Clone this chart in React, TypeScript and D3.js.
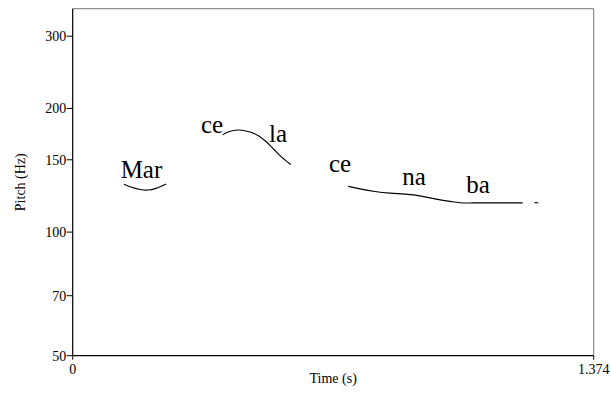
import React from "react";
import * as d3 from "d3";

const W = 611;
const H = 394;

// Pitch contour segments: times (s) and pitch (Hz)
const marTimes = [0.1353, 0.1511, 0.1775, 0.1986, 0.2197, 0.2461];
const marHz = [130.7, 128.9, 127.0, 126.6, 127.8, 131.0];

const celaTimes = [0.3956, 0.4096, 0.428, 0.4465, 0.4676, 0.4887, 0.5098, 0.5309, 0.552, 0.5749];
const celaHz = [172.5, 175.3, 177.0, 177.1, 175.3, 171.9, 166.2, 158.9, 152.0, 146.1];

const cenabaTimes = [0.7268, 0.7577, 0.7972, 0.8368, 0.8763, 0.9159, 0.9555, 0.995, 1.0214, 1.0741, 1.1269, 1.1867];
const cenabaHz = [129.2, 127.4, 125.6, 124.4, 123.7, 122.5, 120.5, 118.8, 117.9, 117.8, 117.8, 117.8];

const tailTimes = [1.2173, 1.2279];
const tailHz = [117.9, 117.9];

// Syllable labels
const syllables = ["Mar", "ce", "la", "ce", "na", "ba"];
const syllableTimes = [0.1814, 0.3674, 0.5414, 0.7049, 0.9001, 1.0689];
const syllableHz = [135.1, 174.8, 165.3, 139.7, 130.0, 124.3];

// Axes
const yTicks = [50, 70, 100, 150, 200, 300];
const xTickValues = [0, 1.374];
const xTickLabels = ["0", "1.374"];
const xDomain = [0, 1.374];
const yDomain = [50, 350];

const FONT = "'Liberation Serif', 'Times New Roman', serif";

export default function App() {
  const left = 72.7;
  const right = 593.7;
  const top = 8.7;
  const bottom = 355.7;

  const x = d3.scaleLinear().domain(xDomain).range([left, right]);
  const y = d3.scaleLog().domain(yDomain).range([bottom, top]);

  const line = d3
    .line<[number, number]>()
    .x((d) => x(d[0]))
    .y((d) => y(d[1]))
    .curve(d3.curveCatmullRom);

  const segs: [number[], number[]][] = [
    [marTimes, marHz],
    [celaTimes, celaHz],
    [cenabaTimes, cenabaHz],
    [tailTimes, tailHz],
  ];

  const ts = { fontFamily: FONT };

  return (
    <svg
      width={W}
      height={H}
      style={{ position: "absolute", left: 0, top: 0, background: "#fff" }}
    >
      <rect x={0} y={0} width={W} height={H} fill="#fff" />
      {/* frame */}
      <line x1={left} x2={right} y1={top} y2={top} stroke="#777" strokeWidth={1} />
      <line x1={right} x2={right} y1={top} y2={bottom} stroke="#777" strokeWidth={1} />
      <line x1={left} x2={left} y1={top} y2={bottom} stroke="#000" strokeWidth={1.2} />
      <line x1={left} x2={right} y1={bottom} y2={bottom} stroke="#000" strokeWidth={1.2} />

      {/* y ticks */}
      {yTicks.map((t) => (
        <g key={"y" + t}>
          <line x1={left - 6} x2={left} y1={y(t)} y2={y(t)} stroke="#000" strokeWidth={1} />
          <text
            x={left - 6.5}
            y={y(t)}
            dy="0.35em"
            textAnchor="end"
            fontSize={14}
            fill="#000"
            style={ts}
          >
            {t}
          </text>
        </g>
      ))}

      {/* x ticks */}
      {xTickValues.map((t, i) => (
        <g key={"x" + i}>
          <line x1={x(t)} x2={x(t)} y1={bottom} y2={bottom + 4} stroke="#000" strokeWidth={1} />
          <text x={x(t)} y={bottom + 18} textAnchor="middle" fontSize={14} fill="#000" style={ts}>
            {xTickLabels[i]}
          </text>
        </g>
      ))}

      {/* axis titles */}
      <text x={(left + right) / 2} y={383} textAnchor="middle" fontSize={14} fill="#000" style={ts}>
        Time (s)
      </text>
      <text
        transform={`translate(24.5, ${(top + bottom) / 2}) rotate(-90)`}
        textAnchor="middle"
        fontSize={14}
        fill="#000"
        style={ts}
      >
        Pitch (Hz)
      </text>

      {/* contours */}
      {segs.map(([tt, hs], i) => (
        <path
          key={"s" + i}
          d={line(tt.map((t, j) => [t, hs[j]] as [number, number])) || ""}
          fill="none"
          stroke="#000"
          strokeWidth={1.1}
        />
      ))}

      {/* syllable labels */}
      {syllables.map((s, i) => (
        <text
          key={"l" + i}
          x={x(syllableTimes[i])}
          y={y(syllableHz[i])}
          textAnchor="middle"
          fontSize={25}
          fill="#000"
          style={ts}
        >
          {s}
        </text>
      ))}
    </svg>
  );
}
